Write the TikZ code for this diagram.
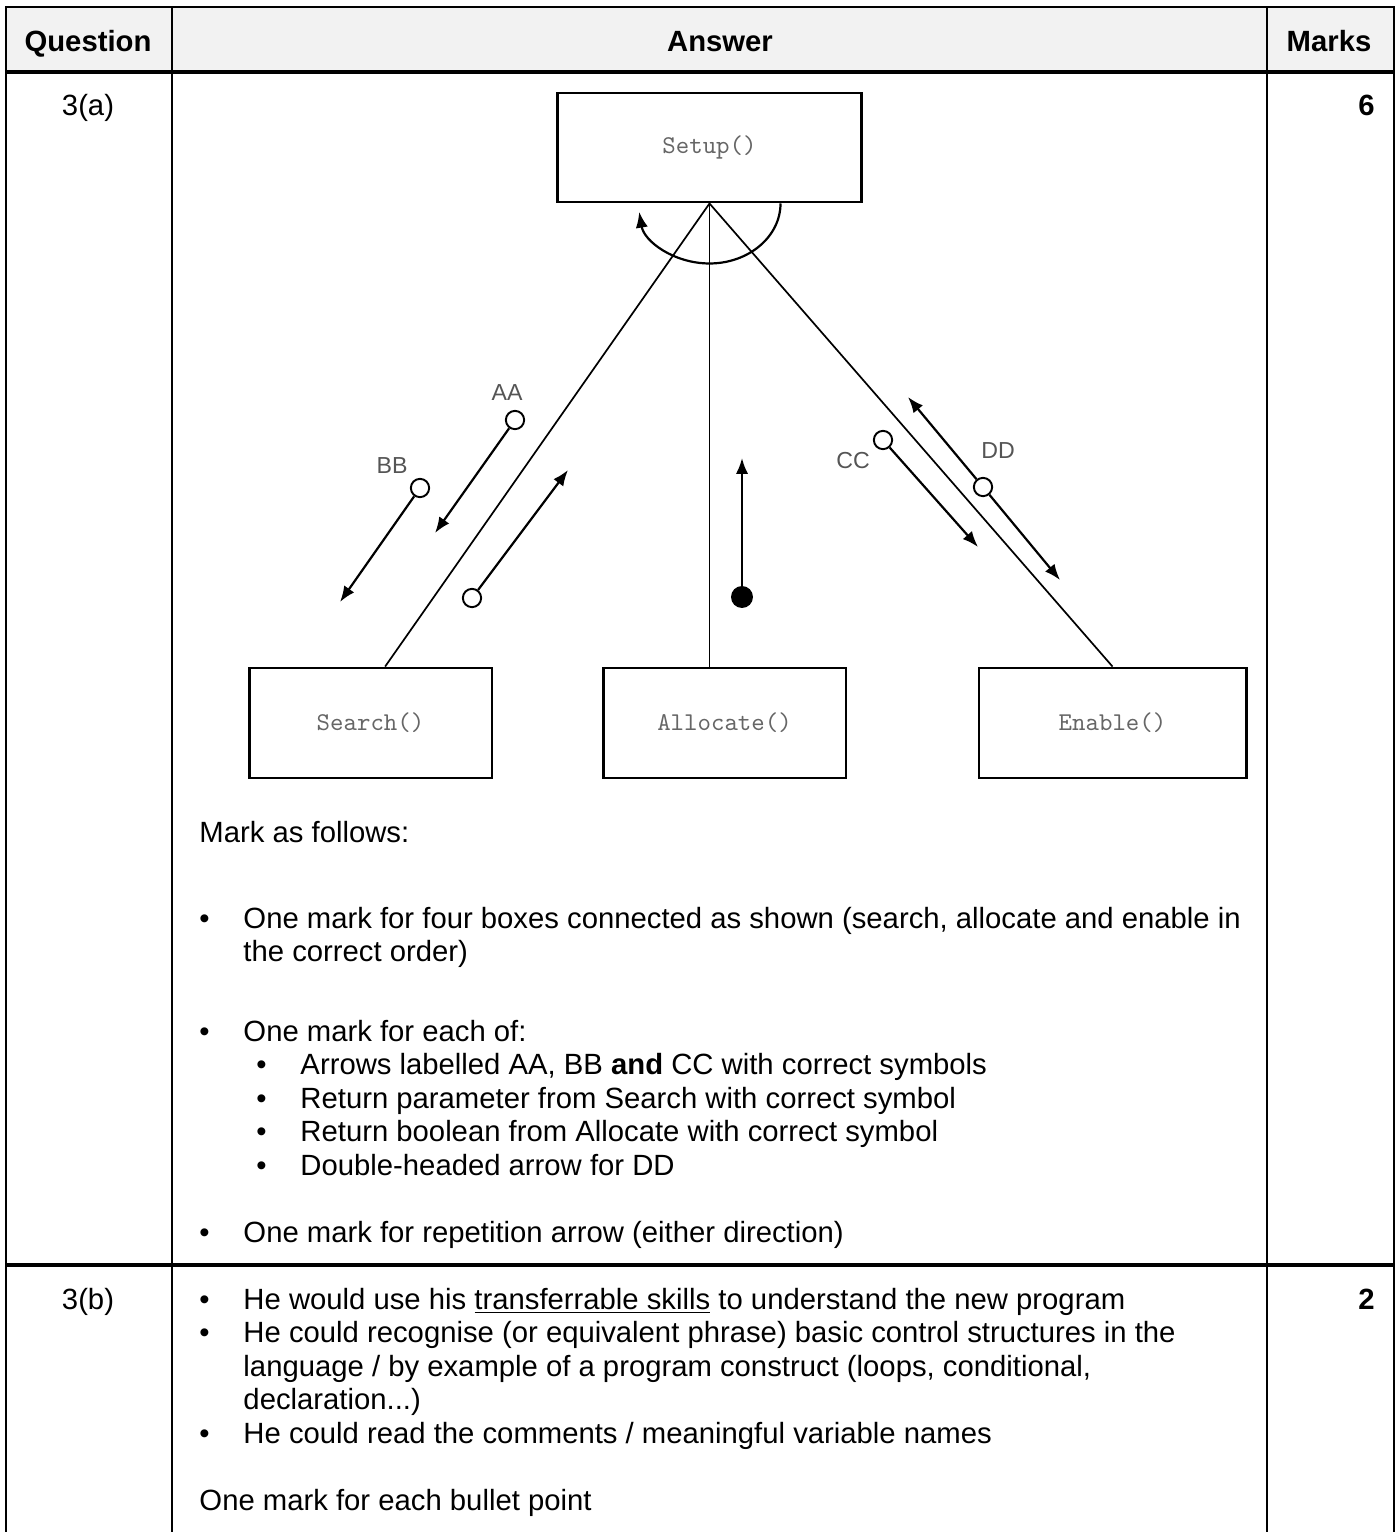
\documentclass[tikz,border=0pt]{standalone}
\usepackage{fontspec}
\setmainfont{Liberation Sans}
\usetikzlibrary{positioning,arrows.meta,calc}
\definecolor{headgray}{RGB}{242,242,242}
\definecolor{taggray}{RGB}{85,85,85}
\tikzset{
    x=0.41pt,
    y=-0.41pt,
    module/.style = {
        draw,
        shape=rectangle,
        line width=1.2pt,
        font=\ttfamily\fontsize{10.5}{12}\selectfont,
        text=black!60,
        inner sep=0pt
    },
    couple/.style = {
        draw,
        shape=circle,
        line width=0.8pt,
        minimum size=7.5pt,
        inner sep=0pt,
        fill=white
    },
    flag/.style = {
        shape=circle,
        fill=black,
        minimum size=9pt,
        inner sep=0pt
    },
    tag/.style = {
        font=\fontsize{9.5}{11}\selectfont,
        text=taggray,
        inner sep=0pt
    },
    txt/.style = {
        anchor=base west,
        inner sep=0pt,
        font=\fontsize{12}{14}\selectfont
    },
    head/.style = {
        anchor=base,
        inner sep=0pt,
        font=\fontsize{12}{14}\selectfont\bfseries
    },
    rule/.style = {line width=0.8pt},
    thickrule/.style = {line width=1.4pt},
    link/.style = {line width=0.7pt},
    flow/.style = {line width=0.9pt, -{Latex[length=6.5pt,width=5pt]}},
}
\begin{document}
\begin{tikzpicture}
                \useasboundingbox (0,0) rectangle (1396,1532);

                % table frame
                \fill[headgray] (6,7) rectangle (1394,72);
                \path[draw, rule] (6,1532) -- (6,7) -- (1394,7) -- (1394,1532);
                \path[draw, rule] (172,7) -- (172,1532);
                \path[draw, rule] (1267,7) -- (1267,1532);
                \path[draw, thickrule] (6,72) -- (1394,72);
                \path[draw, thickrule] (6,1265) -- (1394,1265);

                \node[head] (qhead) at (88,51) {Question};
                \node[head] (ahead) at (720,51) {Answer};
                \node[head] (mhead) at (1329,51) {Marks};

                \node[txt, anchor=base] (qa) at (88,115) {3(a)};
                \node[head, anchor=base east] (ma) at (1375,115) {6};
                \node[txt, anchor=base] (qb) at (88,1309) {3(b)};
                \node[head, anchor=base east] (mb) at (1375,1309) {2};

                % structure chart
                \node[module, minimum width=125pt, minimum height=44.7pt] (setup) at (709.5,147.5) {Setup()};
                \node[module, minimum width=99.6pt, minimum height=45.1pt] (search) at (370.5,723) {Search()};
                \node[module, minimum width=99.6pt, minimum height=45.1pt] (allocate) at (724.5,723) {Allocate()};
                \node[module, minimum width=109.5pt, minimum height=45.1pt] (enable) at (1112.5,723) {Enable()};

                \path[draw, link] (setup.south) -- ([xshift=6pt]search.north);
                \path[draw, link] (setup.south) -- (setup.south |- allocate.north);
                \path[draw, link] (setup.south) -- (enable.north);

                \path[draw, flow] ($(setup.south)+(71,0)$) arc[start angle=0, end angle=172, x radius=71, y radius=60];

                \node[couple] (aa) at (515,420) {};
                \node[couple] (bb) at (420,488) {};
                \node[couple] (found) at (472,598) {};
                \node[flag] (ok) at (742,597) {};
                \node[couple] (cc) at (883,440) {};
                \node[couple] (dd) at (983,487) {};

                \coordinate (aaend) at (435,533);
                \coordinate (bbend) at (340,602);
                \coordinate (foundend) at (568,470);
                \coordinate (okend) at (742,458);
                \coordinate (ccend) at (978,547);
                \coordinate (ddtop) at (908,397);
                \coordinate (ddbot) at (1060,580);

                \path[draw, flow] (aa) -- (aaend);
                \path[draw, flow] (bb) -- (bbend);
                \path[draw, flow] (found) -- (foundend);
                \path[draw, flow] (ok) -- (okend);
                \path[draw, flow] (cc) -- (ccend);
                \path[draw, flow] (dd) -- (ddtop);
                \path[draw, flow] (dd) -- (ddbot);

                \node[tag] (aatag) at (507,393) {AA};
                \node[tag] (bbtag) at (392,466) {BB};
                \node[tag] (cctag) at (853,461) {CC};
                \node[tag] (ddtag) at (998,451) {DD};

                % mark scheme text
                \node[txt] (intro) at (199,842) {Mark as follows:};
                \node[txt] (dot1) at (199,928) {•};
                \node[txt] (pt1) at (243,928) {One mark for four boxes connected as shown (search, allocate and enable in};
                \node[txt] (pt1b) at (243,961.5) {the correct order)};
                \node[txt] (dot2) at (199,1041) {•};
                \node[txt] (pt2) at (243,1041) {One mark for each of:};
                \node[txt] (sdot1) at (256,1074.5) {•};
                \node[txt] (sub1) at (300,1074.5) {Arrows labelled AA, BB \textbf{and} CC with correct symbols};
                \node[txt] (sdot2) at (256,1108) {•};
                \node[txt] (sub2) at (300,1108) {Return parameter from Search with correct symbol};
                \node[txt] (sdot3) at (256,1141.5) {•};
                \node[txt] (sub3) at (300,1141.5) {Return boolean from Allocate with correct symbol};
                \node[txt] (sdot4) at (256,1175) {•};
                \node[txt] (sub4) at (300,1175) {Double-headed arrow for DD};
                \node[txt] (dot3) at (199,1242) {•};
                \node[txt] (pt3) at (243,1242) {One mark for repetition arrow (either direction)};

                \node[txt] (bdot1) at (199,1309) {•};
                \node[txt] (bpt1) at (243,1309) {He would use his \underline{transferrable skills} to understand the new program};
                \node[txt] (bdot2) at (199,1342.5) {•};
                \node[txt] (bpt2) at (243,1342.5) {He could recognise (or equivalent phrase) basic control structures in the};
                \node[txt] (bpt2b) at (243,1376) {language / by example of a program construct (loops, conditional,};
                \node[txt] (bpt2c) at (243,1409.5) {declaration...)};
                \node[txt] (bdot3) at (199,1443) {•};
                \node[txt] (bpt3) at (243,1443) {He could read the comments / meaningful variable names};
                \node[txt] (outro) at (199,1510) {One mark for each bullet point};
            \end{tikzpicture}
\end{document}
